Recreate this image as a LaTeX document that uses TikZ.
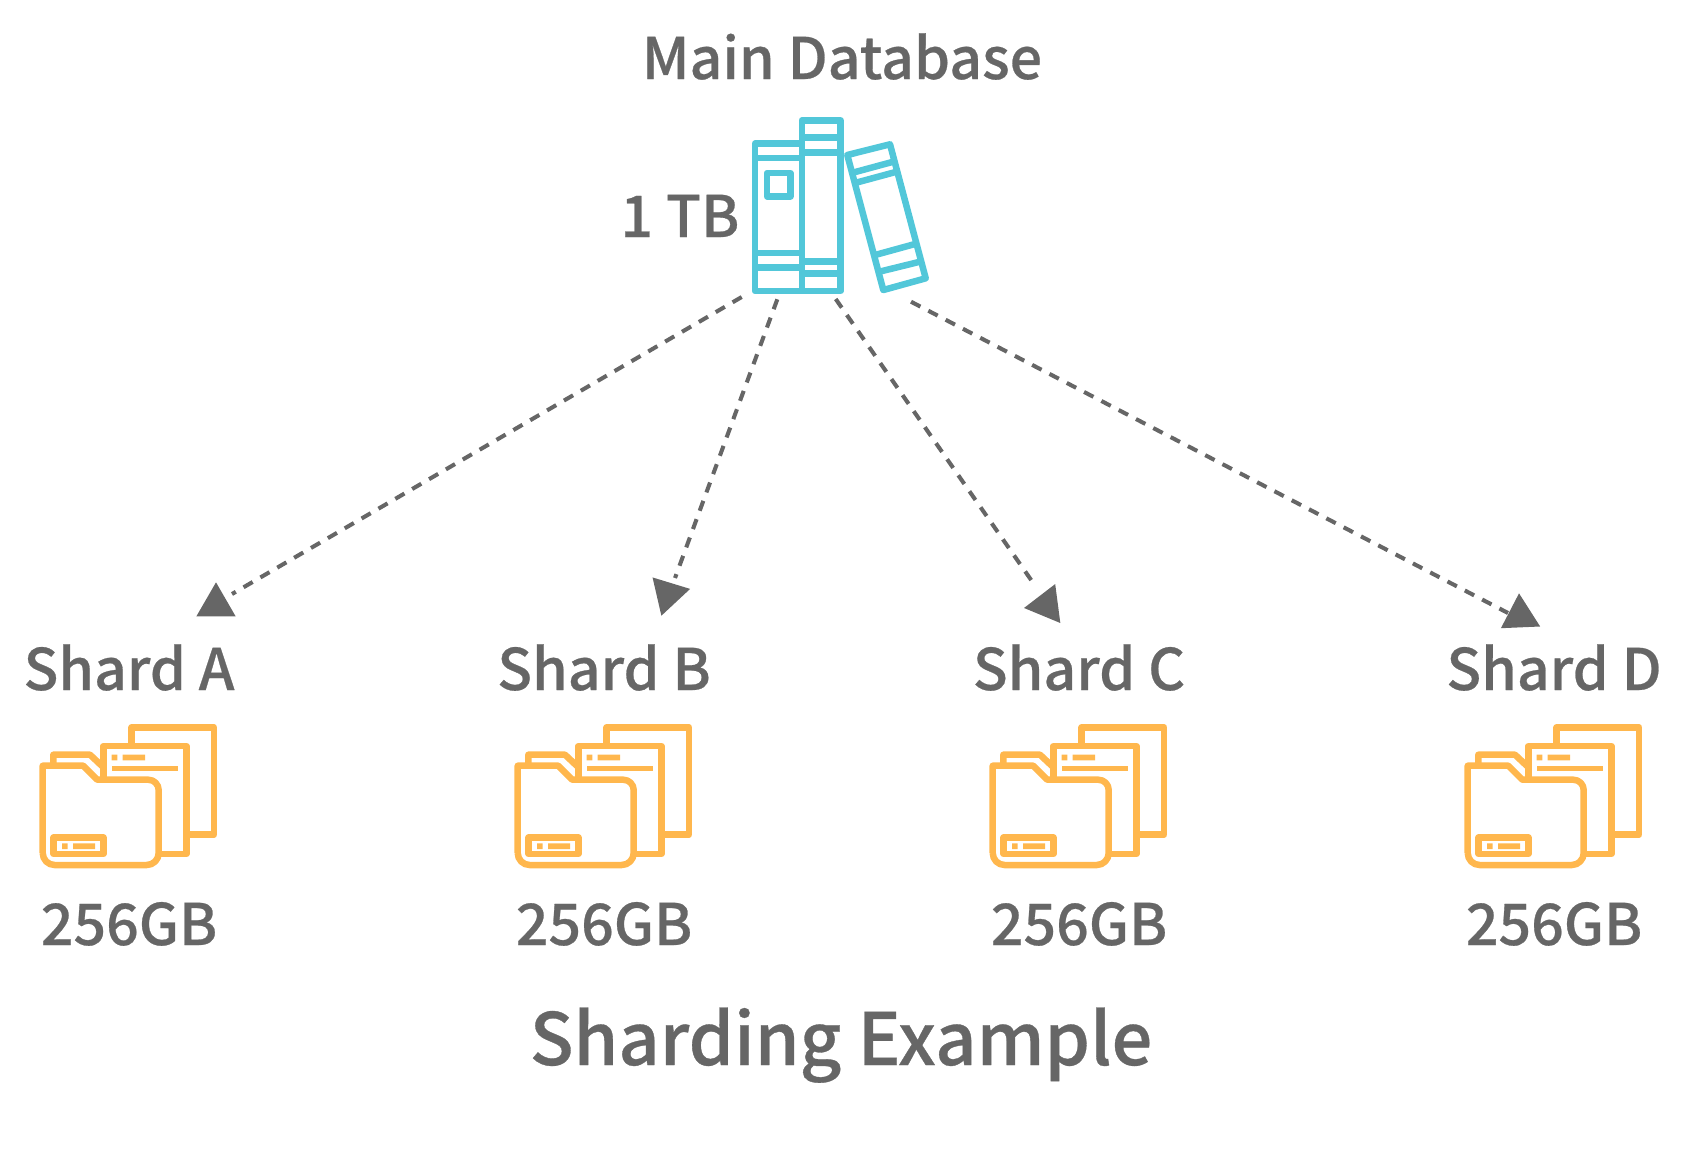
\documentclass[tikz,border=0pt]{standalone}
\usepackage{fontspec}
\usepackage{tikz}
\usetikzlibrary{shapes.geometric}
\setmainfont{Noto Sans CJK SC Medium}[FakeBold=0.45]
\definecolor{inkgrey}{HTML}{666666}
\definecolor{bookblue}{HTML}{52C7D9}
\definecolor{folderorange}{HTML}{FFB74D}
\tikzset{
	label/.style = {text=inkgrey, font=\fontsize{16.3}{16.3}\selectfont, inner sep=0pt, anchor=base},
	caption/.style = {text=inkgrey, font=\fontsize{20.5}{20.5}\selectfont, inner sep=0pt, anchor=base},
	link/.style = {draw=inkgrey, line width=1.15pt, dash pattern=on 3pt off 2.55pt},
	tip/.style = {fill=inkgrey, regular polygon, regular polygon sides=3, minimum size=12.9pt, inner sep=0pt},
	bookline/.style = {draw=bookblue, line width=1.85pt, line join=round},
	folderline/.style = {draw=folderorange, line width=1.85pt, line join=round},
	folder/.pic = {
		\draw[folderline] (111.7,34) -- (111.7,17.3) -- (194,17.3) -- (194,124.7) -- (169,124.7);
		\draw[folderline] (83.3,68) -- (83.3,36) -- (166.3,36) -- (166.3,144) -- (140,144);
		\draw[folderline] (33.3,53) -- (33.3,44.7) -- (70,44.7) -- (82,56);
		\draw[folderline] (22.7,143) -- (22.7,55.7) -- (63.3,55.7) -- (77.3,69.7) -- (128.3,69.7)
			arc[start angle=-90, end angle=0, radius=10.4] -- (138.7,143)
			arc[start angle=0, end angle=90, radius=12] -- (34.7,155)
			arc[start angle=90, end angle=180, radius=12];
		\draw[folderline] (33.7,127.7) rectangle (83.3,144);
		\fill[folderorange] (91.7,44.7) rectangle (97.3,50.3) (102.7,44.7) rectangle (125,50.3);
		\fill[folderorange] (91.7,55.7) rectangle (158.3,61.3);
		\fill[folderorange] (42,133.3) rectangle (47.7,139) (53,133.3) rectangle (75,139);
	},
}
\begin{document}
\begin{tikzpicture}[x=0.01cm, y=-0.01cm]
	\useasboundingbox (0,0) rectangle (1701,1172);
	% titles
	\node[label] (title) at (842,79) {Main Database};
	\node[label, anchor=base east] (size) at (740,237) {1 TB};
	\node[caption] (caption) at (841,1065) {Sharding Example};
	% books
	\draw[bookline] (755,143.7) rectangle (802,291);
	\draw[bookline] (802,120.3) rectangle (840.7,291);
	\draw[bookline] (755,158) -- (802,158);
	\draw[bookline] (755,253) -- (802,253);
	\draw[bookline] (755,267.7) -- (802,267.7);
	\draw[bookline] (767,173) rectangle (790.3,196.3);
	\draw[bookline] (802,137.3) -- (840.7,137.3);
	\draw[bookline] (802,152.3) -- (840.7,152.3);
	\draw[bookline] (802,261.7) -- (840.7,261.7);
	\draw[bookline] (802,273.3) -- (840.7,273.3);
	\draw[bookline] (847.3,155) -- (890,144.3) -- (925.7,278.3) -- (883.3,290) -- cycle;
	\draw[bookline] (852.7,172.7) -- (893.3,161.7);
	\draw[bookline] (856,182.7) -- (896.7,171.7);
	\draw[bookline] (875,255) -- (915,244);
	\draw[bookline] (879.3,271.7) -- (920,261.7);
	% shards
	\foreach \name/\letter/\xpos in {a/A/120, b/B/595, c/C/1070, d/D/1545} {
		\node[label] (shard\name) at (\xpos+9,690) {Shard \letter};
		\node[label] (size\name) at (\xpos+9,945) {256GB};
		\path (\xpos-100,710) pic {folder};
	}
	% arrow heads
	\node[tip] (tipa) at (216,605) {};
	\node[tip, rotate=43] (tipb) at (668,594) {};
	\node[tip, rotate=-22.5] (tipc) at (1046.5,605) {};
	\node[tip, rotate=2.5] (tipd) at (1520,616) {};
	% links
	\coordinate (froma) at (741.7,297);
	\coordinate (toa) at (232,594);
	\coordinate (fromb) at (777.3,299.3);
	\coordinate (tob) at (675,578);
	\coordinate (fromc) at (835.7,299);
	\coordinate (toc) at (1036,587);
	\coordinate (fromd) at (911,301.7);
	\coordinate (tod) at (1508,613);
	\draw[link] (froma) -- (toa);
	\draw[link] (fromb) -- (tob);
	\draw[link] (fromc) -- (toc);
	\draw[link] (fromd) -- (tod);
\end{tikzpicture}
\end{document}
